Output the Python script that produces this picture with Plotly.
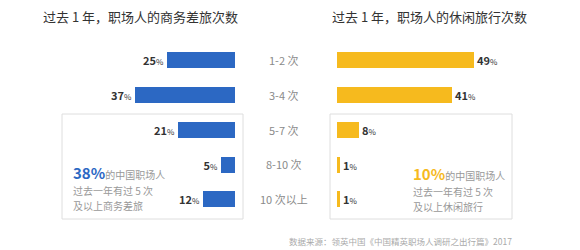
import plotly.graph_objects as go

categories = ["1-2 次", "3-4 次", "5-7 次", "8-10 次", "10 次以上"]
business = [25, 37, 21, 5, 12]
leisure = [49, 41, 8, 1, 1]

W, H = 580, 250
FONT = "Noto Sans CJK SC"
BLUE = "#2C68C3"
YELLOW = "#F6BA1E"

def px(x):
    return x / W

def py(y):
    return 1 - y / H

def lab(v):
    return f"<b>{v}</b><span style='font-size:8px'>%</span>"

fig = go.Figure()
fig.add_trace(go.Bar(
    x=business, y=categories, orientation="h", xaxis="x", yaxis="y",
    marker=dict(color=BLUE, line=dict(width=0)), width=0.46,
    text=[lab(v) for v in business], textposition="outside",
    textfont=dict(family=FONT, size=11, color="#333"), cliponaxis=False,
))
fig.add_trace(go.Bar(
    x=leisure, y=categories, orientation="h", xaxis="x2", yaxis="y2",
    marker=dict(color=YELLOW, line=dict(width=0)), width=0.46,
    text=[lab(v) for v in leisure], textposition="outside",
    textfont=dict(family=FONT, size=11, color="#333"), cliponaxis=False,
))

top, bot = 42.6, 216.4
yax = dict(domain=[py(bot), py(top)], autorange="reversed", showticklabels=False,
           showgrid=False, zeroline=False, showline=False, type="category")
fig.update_layout(
    width=W, height=H, margin=dict(l=0, r=0, t=0, b=0),
    paper_bgcolor="white", plot_bgcolor="rgba(0,0,0,0)",
    showlegend=False, bargap=0,
    xaxis=dict(domain=[0, px(235)], range=[87, 0], visible=False),
    xaxis2=dict(domain=[px(337), 1], range=[0, 87], visible=False),
    yaxis=dict(**yax, anchor="x"),
    yaxis2=dict(**yax, anchor="x2"),
    font=dict(family=FONT),
)

S = "<span style='font-size:10px'>%s</span>"
ann = []
# titles
ann.append(dict(x=px(140), y=py(16), text="过去 1 年，职场人的商务差旅次数",
                font=dict(size=13, color="#333", family=FONT)))
ann.append(dict(x=px(429), y=py(16), text="过去 1 年，职场人的休闲旅行次数",
                font=dict(size=13, color="#333", family=FONT)))
# category labels
for i, c in enumerate(categories):
    ann.append(dict(x=px(284), y=c, yref="y", text=c,
                    font=dict(size=11, color="#8a8a8a", family=FONT)))
# callouts
ann.append(dict(x=px(71), y=py(187), xanchor="left", align="left",
                text=("<b><span style='font-size:15px;color:%s'>38%%</span></b>" % BLUE)
                + S % "的中国职场人" + "<br>" + S % "过去一年有过 5 次" + "<br>" + S % "及以上商务差旅",
                font=dict(size=12, color="#999", family=FONT)))
ann.append(dict(x=px(411), y=py(188), xanchor="left", align="left",
                text=("<b><span style='font-size:15px;color:%s'>10%%</span></b>" % YELLOW)
                + S % "的中国职场人" + "<br>" + S % "过去一年有过 5 次" + "<br>" + S % "及以上休闲旅行",
                font=dict(size=12, color="#999", family=FONT)))
# source
ann.append(dict(x=px(514), y=py(241), xanchor="right",
                text="数据来源：领英中国《中国精英职场人调研之出行篇》2017",
                font=dict(size=8.5, color="#aaa", family=FONT)))
for a in ann:
    a.setdefault("xref", "paper")
    a.setdefault("yref", "paper")
    a.setdefault("xanchor", "center")
    a.setdefault("yanchor", "middle")
    a["showarrow"] = False
fig.update_layout(annotations=ann)

fig.update_layout(shapes=[
    dict(type="rect", xref="paper", yref="paper", x0=px(62), x1=px(243), y0=py(219), y1=py(114),
         line=dict(color="#dedede", width=1), layer="below"),
    dict(type="rect", xref="paper", yref="paper", x0=px(330), x1=px(512), y0=py(219), y1=py(114),
         line=dict(color="#dedede", width=1), layer="below"),
])

fig.write_html("out.html")
